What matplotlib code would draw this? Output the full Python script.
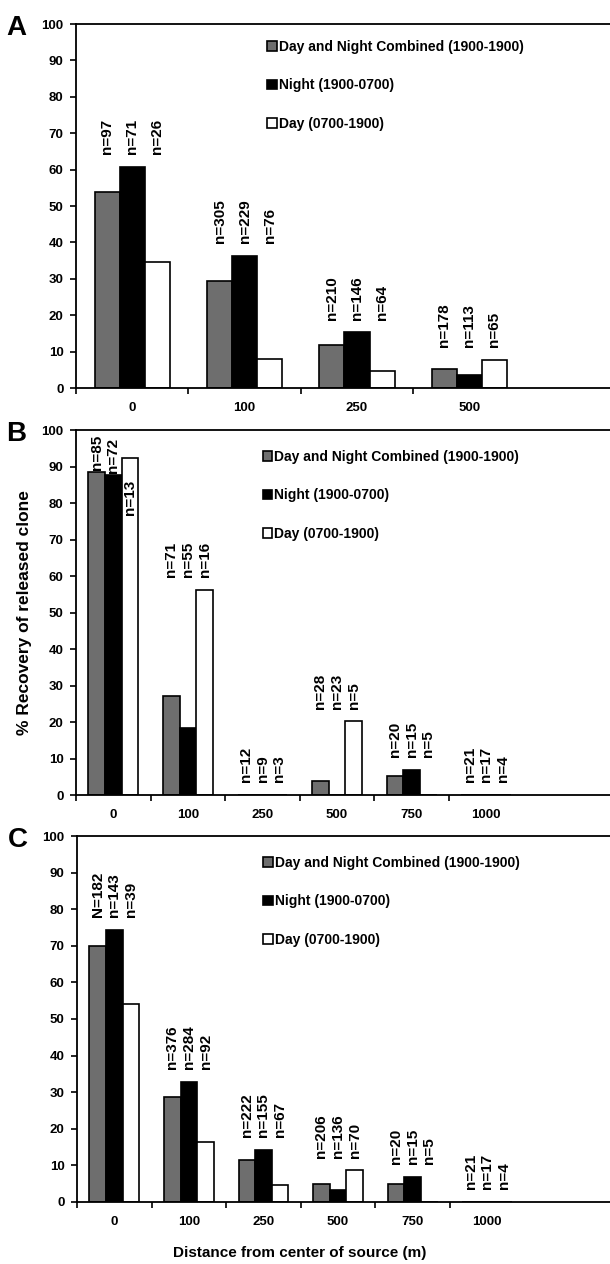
import numpy as np
import matplotlib.pyplot as plt
from matplotlib.ticker import FixedLocator

plt.rcParams['font.family'] = ['Liberation Sans', 'DejaVu Sans']
plt.rcParams['font.weight'] = 'bold'

series_names = ["Day and Night Combined (1900-1900)", "Night (1900-0700)", "Day (0700-1900)"]
colores = ["#6e6e6e", "#000000", "#ffffff"]

# Panel A
dist_a = ["0", "100", "250", "500"]
comb_a = [53.8, 29.3, 11.9, 5.1]
noche_a = [60.7, 36.4, 15.3, 3.7]
dia_a = [34.7, 8.0, 4.8, 7.8]
n_comb_a = ["n=97", "n=305", "n=210", "n=178"]
n_noche_a = ["n=71", "n=229", "n=146", "n=113"]
n_dia_a = ["n=26", "n=76", "n=64", "n=65"]

# Panel B
dist_b = ["0", "100", "250", "500", "750", "1000"]
comb_b = [88.4, 27.1, 0, 3.8, 5.3, 0]
noche_b = [87.7, 18.5, 0, 0, 6.8, 0]
dia_b = [92.4, 56.3, 0, 20.2, 0, 0]
n_comb_b = ["n=85", "n=71", "n=12", "n=28", "n=20", "n=21"]
n_noche_b = ["n=72", "n=55", "n=9", "n=23", "n=15", "n=17"]
n_dia_b = ["n=13", "n=16", "n=3", "n=5", "n=5", "n=4"]

# Panel C
dist_c = ["0", "100", "250", "500", "750", "1000"]
comb_c = [70.0, 28.8, 11.4, 5.0, 5.0, 0]
noche_c = [74.3, 32.8, 14.3, 3.2, 6.8, 0]
dia_c = [54.0, 16.4, 4.5, 8.6, 0, 0]
n_comb_c = ["N=182", "n=376", "n=222", "n=206", "n=20", "n=21"]
n_noche_c = ["n=143", "n=284", "n=155", "n=136", "n=15", "n=17"]
n_dia_c = ["n=39", "n=92", "n=67", "n=70", "n=5", "n=4"]


def panel(fig, rect, letra, dist, valores, etiquetas, ancho_cat, leg_pos):
    ax = fig.add_axes(rect)
    x = np.arange(len(dist))
    w = 0.223
    for i, (vals, col) in enumerate(zip(valores, colores)):
        ax.bar(x + (i - 1) * w, vals, w, color=col, edgecolor="black",
               linewidth=1.2, label=series_names[i], zorder=2)

    # etiquetas n= encima de cada grupo
    for j in range(len(dist)):
        tope = max(v[j] for v in valores)
        for i in range(3):
            xx = x[j] + (i - 1) * w
            if tope > 85:
                # grupo que casi toca el techo (panel B, 0 m)
                if valores[i][j] == tope:
                    ax.text(xx, tope - 6, etiquetas[i][j], rotation=90, ha="center",
                            va="top", fontsize=11, fontweight="bold", zorder=3)
                else:
                    ax.text(xx, valores[i][j] + 0.6, etiquetas[i][j], rotation=90,
                            ha="center", va="bottom", fontsize=11, fontweight="bold")
            else:
                ax.text(xx, tope + 3.5, etiquetas[i][j], rotation=90, ha="center",
                        va="bottom", fontsize=11, fontweight="bold")

    ax.set_ylim(0, 100)
    ax.set_xlim(-0.5, -0.5 + ancho_cat)
    ax.set_yticks(np.arange(0, 101, 10))
    ax.set_xticks(x)
    ax.set_xticklabels(dist)
    ax.xaxis.set_minor_locator(FixedLocator(np.arange(len(dist)) - 0.5))
    ax.tick_params(axis="x", which="major", length=0, pad=10, labelsize=9.5)
    ax.tick_params(axis="x", which="minor", length=4, width=1.2)
    ax.tick_params(axis="y", length=4, width=1.2, pad=5, labelsize=9.5)
    for lab in ax.get_xticklabels() + ax.get_yticklabels():
        lab.set_fontweight("bold")
    for s in ["left", "bottom", "top"]:
        ax.spines[s].set_linewidth(1.3)
    ax.spines["right"].set_visible(False)

    ax.legend(loc="upper left", bbox_to_anchor=leg_pos, frameon=False,
              handlelength=0.7, handleheight=0.7, handletextpad=0.15,
              labelspacing=1.75, prop={"weight": "bold", "size": 10})
    ax.text(-0.13, 1.025, letra, transform=ax.transAxes, fontsize=20,
            fontweight="bold", va="top", ha="left")
    return ax


fig = plt.figure(figsize=(6.1, 12.64), dpi=100)

# ancho de categoria: A 112.4 px, B/C 74.6 px; eje llega hasta el borde derecho
panel(fig, [76 / 610, 0.6930, 534 / 610, 0.2880], "A", dist_a,
      [comb_a, noche_a, dia_a], [n_comb_a, n_noche_a, n_dia_a], 534 / 112.4,
      (0.335, 0.99))
ax_b = panel(fig, [76 / 610, 0.3710, 534 / 610, 0.2888], "B", dist_b,
             [comb_b, noche_b, dia_b], [n_comb_b, n_noche_b, n_dia_b], 534 / 74.6,
             (0.326, 0.979))
ax_c = panel(fig, [77 / 610, 0.0491, 533 / 610, 0.2895], "C", dist_c,
             [comb_c, noche_c, dia_c], [n_comb_c, n_noche_c, n_dia_c], 533 / 74.6,
             (0.326, 0.979))

ax_b.set_ylabel("% Recovery of released clone", fontsize=12.5, fontweight="bold")
ax_b.yaxis.set_label_coords(-0.083, 0.5)
ax_c.set_xlabel("Distance from center of source (m)", fontsize=11, fontweight="bold")
ax_c.xaxis.set_label_coords(0.418, -0.12)

fig.savefig("out.png", dpi=100)
